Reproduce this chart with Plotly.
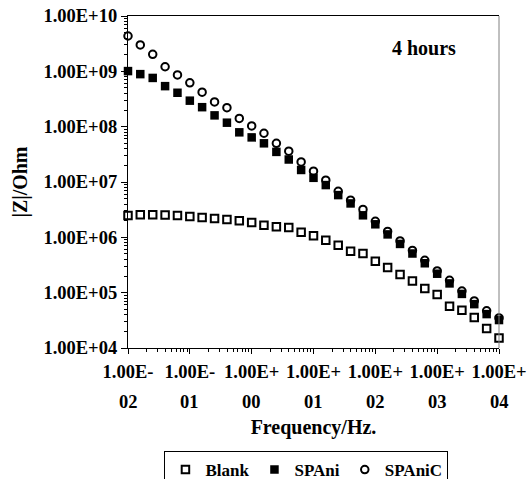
import plotly.graph_objects as go

freq = [0.01, 0.0158, 0.0251, 0.0398, 0.0631, 0.1, 0.158, 0.251, 0.398, 0.631,
        1, 1.58, 2.51, 3.98, 6.31, 10, 15.8, 25.1, 39.8, 63.1,
        100, 158, 251, 398, 631, 1000, 1585, 2512, 3981, 6310, 10000]

blank = [2.47e6, 2.57e6, 2.57e6, 2.52e6, 2.47e6, 2.37e6, 2.29e6, 2.2e6, 2.09e6, 2.0e6,
         1.85e6, 1.66e6, 1.55e6, 1.51e6, 1.24e6, 1.07e6, 8.9e5, 7.2e5, 5.6e5, 5.1e5,
         3.7e5, 2.86e5, 2.13e5, 1.63e5, 1.19e5, 9.3e4, 5.7e4, 4.8e4, 3.56e4, 2.25e4, 1.52e4]

spani = [1.01e9, 8.9e8, 7.6e8, 5.4e8, 4.1e8, 2.95e8, 2.25e8, 1.6e8, 1.18e8, 7.9e7,
         6.4e7, 5.0e7, 3.5e7, 2.55e7, 1.65e7, 1.19e7, 8.8e6, 5.8e6, 4.1e6, 2.5e6,
         1.72e6, 1.13e6, 7.6e5, 5.1e5, 3.4e5, 2.2e5, 1.47e5, 9.5e4, 6.2e4, 4.1e4, 3.2e4]

spanic = [4.35e9, 3.0e9, 2.03e9, 1.21e9, 8.6e8, 6.2e8, 4.2e8, 2.8e8, 2.2e8, 1.41e8,
          1.03e8, 7.6e7, 5.0e7, 3.6e7, 2.3e7, 1.57e7, 1.08e7, 6.8e6, 4.7e6, 3.2e6,
          1.95e6, 1.28e6, 8.6e5, 5.8e5, 3.85e5, 2.47e5, 1.67e5, 1.07e5, 7.1e4, 4.7e4, 3.5e4]

x_tickvals = [0.01, 0.1, 1, 10, 100, 1000, 10000]
x_line1 = ["1.00E-", "1.00E-", "1.00E+", "1.00E+", "1.00E+", "1.00E+", "1.00E+"]
x_line2 = ["02", "01", "00", "01", "02", "03", "04"]
y_tickvals = [1e4, 1e5, 1e6, 1e7, 1e8, 1e9, 1e10]
y_ticktext = ["1.00E+04", "1.00E+05", "1.00E+06", "1.00E+07", "1.00E+08", "1.00E+09", "1.00E+10"]

FONT = "Liberation Serif"

fig = go.Figure()
fig.add_trace(go.Scatter(
    x=freq, y=blank, mode="markers", name="Blank", legendrank=1, cliponaxis=False,
    marker=dict(symbol="square", size=7.5, color="white", line=dict(color="black", width=2))))
fig.add_trace(go.Scatter(
    x=freq, y=spanic, mode="markers", name="SPAniC", legendrank=3, cliponaxis=False,
    marker=dict(symbol="circle", size=7.5, color="white", line=dict(color="black", width=2))))
fig.add_trace(go.Scatter(
    x=freq, y=spani, mode="markers", name="SPAni", legendrank=2, cliponaxis=False,
    marker=dict(symbol="square", size=8.5, color="black", line=dict(width=0))))

tickfont = dict(family=FONT, size=18.5, color="black", weight="bold")

fig.update_xaxes(
    type="log", range=[-2, 4], tickvals=x_tickvals, ticktext=x_line1,
    tickfont=tickfont, ticks="outside", ticklen=5, tickcolor="black", tickwidth=1,
    ticklabelstandoff=2,
    showline=True, linecolor="black", linewidth=1.3, mirror=True,
    showgrid=False, zeroline=False,
    minor=dict(ticks="outside", ticklen=3, tickcolor="black", tickwidth=1, dtick="D1", showgrid=False),
    title=dict(text="Frequency/Hz.", font=dict(family=FONT, size=20, color="black", weight="bold"), standoff=38),
)
fig.update_yaxes(
    type="log", range=[4, 10], tickvals=y_tickvals, ticktext=y_ticktext,
    tickfont=tickfont, ticks="outside", ticklen=6, tickcolor="black", tickwidth=1,
    showline=True, linecolor="black", linewidth=1.3, mirror=False,
    showgrid=False, zeroline=False,
    minor=dict(ticks="outside", ticklen=3, tickcolor="black", tickwidth=1, dtick="D1", showgrid=False),
    title=dict(text="|Z|/Ohm", font=dict(family=FONT, size=20, color="black", weight="bold"), standoff=10),
)

annotations = [dict(x=v, y=-0.1628, xref="x", yref="paper", text=t, showarrow=False,
                    xanchor="center", yanchor="middle", font=tickfont)
               for v, t in zip([-2, -1, 0, 1, 2, 3, 4], x_line2)]
annotations.append(dict(x=0.798, y=0.9035, xref="paper", yref="paper", text="4 hours",
                        showarrow=False, xanchor="center", yanchor="middle",
                        font=dict(family=FONT, size=20, color="black", weight="bold")))

fig.update_layout(
    width=527, height=479,
    margin=dict(l=128, r=28, t=16, b=131, autoexpand=False),
    paper_bgcolor="white", plot_bgcolor="white",
    font=dict(family=FONT, color="black"),
    annotations=annotations,
    shapes=[dict(type="line", xref="paper", yref="paper", x0=1, x1=1, y0=0, y1=1,
                 line=dict(color="#808080", width=1))],
    legend=dict(orientation="h", x=0.481, xanchor="center",
                yref="container", y=0.0585, yanchor="top",
                bordercolor="black", borderwidth=1, bgcolor="white",
                font=dict(family=FONT, size=17, color="black", weight="bold"),
                itemsizing="trace"),
    showlegend=True,
)

fig.write_html("out.html")
